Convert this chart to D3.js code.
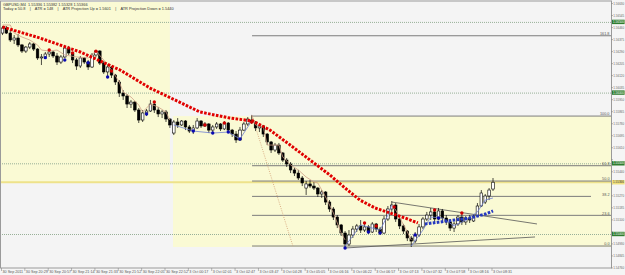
<!DOCTYPE html>
<html>
<head>
<meta charset="utf-8">
<script src="https://cdn.jsdelivr.net/npm/d3@7"></script>
<style>
  body { margin: 0; background: #f4f4f4; }
  svg { display: block; font-family: "Liberation Sans", Arial, sans-serif; }
  .hdr { white-space: pre; }
</style>
</head>
<body>
<svg id="chart" width="625" height="275"></svg>
<script>
// GBPUSD M4, 30 Sep - 3 Oct 2011

var openP = [1.56421,1.56457,1.56421,1.56372,1.56386,1.56337,1.56294,1.56322,1.56344,1.56308,
  1.56245,1.56252,1.56273,1.56287,1.56259,1.56216,1.56252,1.56315,1.56280,1.56231,
  1.56188,1.56245,1.56216,1.56181,1.56266,1.56294,1.56209,1.56146,1.56181,1.56124,
  1.56075,1.55997,1.55976,1.55919,1.55933,1.55877,1.55806,1.55856,1.55870,1.55919,
  1.55877,1.55849,1.55863,1.55813,1.55714,1.55792,1.55771,1.55799,1.55757,1.55728,
  1.55750,1.55799,1.55764,1.55778,1.55735,1.55757,1.55778,1.55743,1.55785,1.55735,
  1.55707,1.55665,1.55735,1.55778,1.55806,1.55792,1.55750,1.55764,1.55707,1.55651,
  1.55594,1.55629,1.55573,1.55523,1.55495,1.55453,1.55431,1.55396,1.55325,1.55354,
  1.55339,1.55325,1.55283,1.55297,1.55226,1.55177,1.55120,1.55064,1.55007,1.54929,
  1.54993,1.55035,1.55057,1.55028,1.55050,1.55014,1.55071,1.55035,1.55007,1.55106,
  1.55177,1.55205,1.55106,1.55057,1.55021,1.54972,1.54950,1.54993,1.55050,1.55106,
  1.55134,1.55156,1.55106,1.55163,1.55113,1.55085,1.55042,1.55071,1.55120,1.55085,
  1.55113,1.55092,1.55127,1.55198,1.55226,1.55269,1.55318];

var highP = [1.56471,1.56471,1.56443,1.56407,1.56414,1.56344,1.56330,1.56358,1.56351,1.56315,
  1.56273,1.56287,1.56301,1.56294,1.56280,1.56266,1.56337,1.56330,1.56287,1.56245,
  1.56259,1.56252,1.56231,1.56280,1.56301,1.56301,1.56223,1.56202,1.56188,1.56132,
  1.56089,1.56018,1.55990,1.55948,1.55941,1.55891,1.55877,1.55884,1.55948,1.55933,
  1.55898,1.55877,1.55877,1.55820,1.55806,1.55820,1.55806,1.55806,1.55771,1.55771,
  1.55820,1.55806,1.55792,1.55785,1.55771,1.55792,1.55785,1.55799,1.55792,1.55743,
  1.55728,1.55757,1.55792,1.55827,1.55842,1.55799,1.55778,1.55771,1.55714,1.55658,
  1.55644,1.55644,1.55580,1.55537,1.55509,1.55467,1.55453,1.55410,1.55375,1.55382,
  1.55368,1.55332,1.55311,1.55304,1.55240,1.55191,1.55134,1.55071,1.55021,1.55028,
  1.55057,1.55071,1.55099,1.55071,1.55064,1.55085,1.55078,1.55050,1.55127,1.55198,
  1.55233,1.55219,1.55113,1.55071,1.55028,1.54986,1.55014,1.55071,1.55120,1.55156,
  1.55184,1.55170,1.55184,1.55177,1.55134,1.55099,1.55085,1.55134,1.55149,1.55127,
  1.55134,1.55141,1.55219,1.55311,1.55283,1.55325,1.55396];

var lowP = [1.56407,1.56414,1.56358,1.56344,1.56322,1.56280,1.56280,1.56308,1.56294,1.56231,
  1.56195,1.56245,1.56252,1.56245,1.56195,1.56202,1.56245,1.56266,1.56209,1.56160,
  1.56174,1.56202,1.56160,1.56174,1.56252,1.56195,1.56132,1.56110,1.56103,1.56054,
  1.55969,1.55948,1.55891,1.55891,1.55863,1.55785,1.55792,1.55834,1.55863,1.55856,
  1.55827,1.55820,1.55792,1.55750,1.55700,1.55750,1.55764,1.55735,1.55714,1.55707,
  1.55743,1.55750,1.55757,1.55714,1.55721,1.55743,1.55728,1.55735,1.55714,1.55686,
  1.55644,1.55658,1.55728,1.55764,1.55778,1.55728,1.55721,1.55686,1.55629,1.55573,
  1.55580,1.55559,1.55509,1.55474,1.55431,1.55410,1.55382,1.55339,1.55276,1.55325,
  1.55311,1.55262,1.55255,1.55205,1.55156,1.55099,1.55042,1.54986,1.54901,1.54915,
  1.54972,1.55014,1.55007,1.55014,1.55000,1.55007,1.55014,1.54993,1.55000,1.55092,
  1.55156,1.55085,1.55035,1.55000,1.54950,1.54908,1.54936,1.54979,1.55035,1.55092,
  1.55099,1.55085,1.55099,1.55085,1.55064,1.55021,1.55014,1.55057,1.55064,1.55064,
  1.55078,1.55085,1.55120,1.55191,1.55212,1.55240,1.55304];

var closeP = [1.56457,1.56421,1.56372,1.56386,1.56337,1.56294,1.56322,1.56344,1.56308,1.56245,
  1.56252,1.56273,1.56287,1.56259,1.56216,1.56252,1.56315,1.56280,1.56231,1.56188,
  1.56245,1.56216,1.56181,1.56266,1.56294,1.56209,1.56146,1.56181,1.56124,1.56075,
  1.55997,1.55976,1.55919,1.55933,1.55877,1.55806,1.55856,1.55870,1.55919,1.55877,
  1.55849,1.55863,1.55813,1.55771,1.55792,1.55771,1.55799,1.55757,1.55728,1.55750,
  1.55799,1.55764,1.55778,1.55735,1.55757,1.55778,1.55743,1.55785,1.55735,1.55707,
  1.55665,1.55735,1.55778,1.55813,1.55792,1.55750,1.55764,1.55707,1.55651,1.55594,
  1.55629,1.55573,1.55523,1.55495,1.55453,1.55431,1.55396,1.55361,1.55354,1.55339,
  1.55325,1.55283,1.55297,1.55226,1.55177,1.55120,1.55064,1.55007,1.54929,1.54993,
  1.55035,1.55057,1.55028,1.55050,1.55014,1.55071,1.55035,1.55007,1.55106,1.55177,
  1.55205,1.55106,1.55057,1.55021,1.54972,1.54950,1.54993,1.55050,1.55106,1.55134,
  1.55156,1.55106,1.55163,1.55113,1.55085,1.55042,1.55071,1.55120,1.55085,1.55113,
  1.55099,1.55127,1.55198,1.55290,1.55269,1.55311,1.55366];

// time axis labels, one every 6 bars
var timeLabels = ["30 Sep 2011","30 Sep 20:29","30 Sep 20:57","30 Sep 21:14","30 Sep 21:33",
  "30 Sep 21:52","30 Sep 22:05","30 Sep 22:52","3 Oct 00:17","3 Oct 02:01","3 Oct 02:47",
  "3 Oct 03:47","3 Oct 04:28","3 Oct 05:05","3 Oct 06:16","3 Oct 06:22","3 Oct 06:57",
  "3 Oct 07:13","3 Oct 07:32","3 Oct 07:58","3 Oct 08:16","3 Oct 08:31"];
var timeLabelBars = [0,6,12,18,24,30,36,42,48,54,60,66,72,78,84,90,96,102,108,114,120,126];

// price axis
var priceTicks = [1.54760,1.54845,1.54930,1.55015,1.55100,1.55185,1.55270,1.55355,1.55440,
  1.55525,1.55610,1.55695,1.55780,1.55865,1.55950,1.56035,1.56120,1.56205,1.56290,1.56375,
  1.56460,1.56545,1.56630];
var roundLevels = [1.5500, 1.5550, 1.5600, 1.5650];
var bidPrice = 1.55366;

// fibonacci retracement (anchors: bar, price)
var fibNames = ["0.0","23.6","38.2","50.0","61.8","100.0","161.8"];
var fibRatios = [0, 0.236, 0.382, 0.5, 0.618, 1, 1.618];
var fibBars = [64.1, 74.6];
var fibPrices = [1.55834, 1.54915];

// rectangles (bar from, bar to) and (price low, price high)
var rectBars = [[-2, 43.0], [43.8, 160]];
var rectPrices = [[1.55361, 1.5680], [1.54908, 1.55834]];

// ATR trend line (squares)
var redBars = [0, 9.6, 20, 30.2, 37.9, 44.3, 50.7, 58.4, 64.3, 68.7, 73.9, 79, 84.1, 88, 91.8, 95.7, 99.5, 103.4, 106.7];
var redPrices = [1.56464, 1.56386, 1.56287, 1.56160, 1.56032, 1.55948, 1.55863, 1.55820, 1.55799, 1.55735,
  1.55629, 1.55523, 1.55417, 1.55325, 1.55240, 1.55184, 1.55149, 1.55113, 1.55078];
var blueBars = [108.5, 112.4, 116.2, 120.1, 124, 126];
var bluePrices = [1.55071, 1.55085, 1.55099, 1.55113, 1.55141, 1.55163];

// thin trailing line (null = break)
var tanBars = [0, 2, 3, 5, 7, 9, 10, 12, 14, 16, 19, 22, 24, 26, 28, 30, 31, 33, 35, 36, 38, 40, 42, 43, null,
  64, 65, 67, 68, 71, 72, 74, 76, 78, 80, 81, 83, 85, 87, 88, null, 100, 101, 104, 105];
var tanPrices = [1.56478, 1.56478, 1.56421, 1.56393, 1.56372, 1.56337, 1.56301, 1.56294, 1.56301, 1.56266,
  1.56252, 1.56245, 1.56294, 1.56231, 1.56160, 1.56075, 1.56004, 1.55969, 1.55912, 1.55863, 1.55919, 1.55898,
  1.55863, 1.55806, null, 1.55842, 1.55771, 1.55757, 1.55629, 1.55629, 1.55545, 1.55488, 1.55453, 1.55403,
  1.55368, 1.55361, 1.55262, 1.55149, 1.55007, 1.54958, null, 1.55205, 1.55170, 1.55014, 1.54958];
var thinBlueBars = [44, 49, 54, 58, 61, 64, null, 88, 90, 92, 95, 97, 99, 100, null, 105, 108, 110, 113, 116, 119, 122, 124, 126];
var thinBluePrices = [1.55771, 1.55728, 1.55714, 1.55721, 1.55672, 1.55799, null, 1.54915, 1.54986, 1.55064,
  1.55042, 1.55028, 1.55134, 1.55205, null, 1.54915, 1.55028, 1.55120, 1.55113, 1.55057, 1.55099, 1.55156, 1.55240, 1.55255];

// fractal dots
var redDotBars = [12, 18, 24, 28, 39, 52, 57, 64, 93, 96, 100.6, 111, 118];
var redDotPrices = [1.56301, 1.56280, 1.56292, 1.56153, 1.55933, 1.55771, 1.55785, 1.55792, 1.55078, 1.55057, 1.55191, 1.55170, 1.55149];
var blueDotBars = [11, 16, 22, 27, 37, 49, 54, 58, 61, 88, 94, 97, 106, 112];
var blueDotPrices = [1.56247, 1.56231, 1.56211, 1.56110, 1.55849, 1.55728, 1.55714, 1.55721, 1.55672, 1.54901, 1.55014, 1.55007, 1.54993, 1.55113];

// trend lines [bar1, price1, bar2, price2]
var trendLines = [[100, 1.55226, 137.3, 1.55071], [88, 1.54901, 136.8, 1.54979]];

var headerLine1 = "GBPUSD,M4  1.55336 1.55382 1.55328 1.55366";
var headerLine2 = "Today = 50.8    |    ATR = 148    |    ATR Projection Up = 1.5601    |    ATR Projection Down = 1.5440";

var svg = d3.select("#chart");
var plotRight = 611, plotTop = 2, plotBottom = 268;

var x = d3.scaleLinear().domain([0, 126]).range([2.5, 493]);
var y = d3.scaleLinear().domain([1.5500, 1.5650]).range([234, 21.9]);

svg.append("rect").attr("width", 625).attr("height", 275).style("fill", "#f5f5f5");

svg.append("clipPath").attr("id", "plotclip")
  .append("rect").attr("x", 0).attr("y", plotTop).attr("width", plotRight).attr("height", plotBottom - plotTop);

var plot = svg.append("g").attr("clip-path", "url(#plotclip)");

plot.append("rect").attr("x", 0).attr("y", plotTop).attr("width", plotRight).attr("height", plotBottom - plotTop)
  .style("fill", "#f4f4f4");

// yellow zones
plot.selectAll(".zone").data(rectBars).enter().append("rect")
  .attr("x", (d, i) => Math.max(0, x(d[0])))
  .attr("width", (d, i) => x(d[1]) - Math.max(0, x(d[0])))
  .attr("y", (d, i) => y(rectPrices[i][1]))
  .attr("height", (d, i) => y(rectPrices[i][0]) - y(rectPrices[i][1]))
  .style("fill", "#fafad4");

// round number levels
plot.selectAll(".lvl").data(roundLevels).enter().append("line")
  .attr("x1", 0).attr("x2", plotRight)
  .attr("y1", d => y(d) + 0.5).attr("y2", d => y(d) + 0.5)
  .style("stroke", "#98b098").style("stroke-width", 1).style("stroke-dasharray", "1,1");

// bid line
plot.append("line").attr("x1", 0).attr("x2", plotRight)
  .attr("y1", y(bidPrice)).attr("y2", y(bidPrice))
  .style("stroke", "#eee28a").style("stroke-width", 2.2);

// fibonacci
var fibRange = fibPrices[0] - fibPrices[1];
plot.selectAll(".fib").data(fibRatios).enter().append("line")
  .attr("x1", x(fibBars[0])).attr("x2", (d, i) => fibNames[i] == "38.2" ? 591 : plotRight)
  .attr("y1", d => y(fibPrices[1] + d * fibRange)).attr("y2", d => y(fibPrices[1] + d * fibRange))
  .style("stroke", "#7c7c7c").style("stroke-width", 1);

plot.selectAll(".fibtxt").data(fibRatios).enter().append("text")
  .attr("x", 609.5).attr("y", d => y(fibPrices[1] + d * fibRange) - 0.8)
  .attr("text-anchor", "end")
  .text((d, i) => fibNames[i])
  .style("font-size", "3.8px").style("fill", "#555");

plot.append("line")
  .attr("x1", x(fibBars[0])).attr("y1", y(fibPrices[0]))
  .attr("x2", x(fibBars[1])).attr("y2", y(fibPrices[1]))
  .style("stroke", "#d09a70").style("stroke-width", 0.8).style("stroke-dasharray", "1,1.3");

// trend lines
plot.selectAll(".tl").data(trendLines).enter().append("line")
  .attr("x1", d => x(d[0])).attr("y1", d => y(d[1]))
  .attr("x2", d => x(d[2])).attr("y2", d => y(d[3]))
  .style("stroke", "#555").style("stroke-width", 0.8);

// candles
var bars = d3.range(openP.length).map(i => ({i: i, o: openP[i], h: highP[i], l: lowP[i], c: closeP[i]}));

plot.selectAll(".wick").data(bars).enter().append("line")
  .attr("x1", d => x(d.i)).attr("x2", d => x(d.i))
  .attr("y1", d => y(d.h)).attr("y2", d => y(d.l))
  .style("stroke", "#000").style("stroke-width", 0.7);

plot.selectAll(".body").data(bars).enter().append("rect")
  .attr("x", d => x(d.i) - 1.3).attr("width", 2.6)
  .attr("y", d => y(Math.max(d.o, d.c)))
  .attr("height", d => Math.max(0.6, Math.abs(y(d.o) - y(d.c))))
  .style("fill", d => d.c >= d.o ? "#fff" : "#000")
  .style("stroke", "#000").style("stroke-width", 0.6);

// thin trailing lines
function pairs(bs, ps) {
  return bs.map((b, i) => [b, ps[i]]);
}
var thin = d3.line().defined(d => d[0] != null).x(d => x(d[0])).y(d => y(d[1]));

plot.append("path").datum(pairs(tanBars, tanPrices)).attr("d", thin)
  .style("fill", "none").style("stroke", "#cf9f86").style("stroke-width", 0.8);
plot.append("path").datum(pairs(thinBlueBars, thinBluePrices)).attr("d", thin)
  .style("fill", "none").style("stroke", "#6f7fd0").style("stroke-width", 0.8);

// ATR trend squares
var sq = d3.line().x(d => x(d[0])).y(d => y(d[1]));
plot.append("path").datum(pairs(redBars, redPrices)).attr("d", sq)
  .style("fill", "none").style("stroke", "#e00000").style("stroke-width", 3)
  .style("stroke-dasharray", "2.6,1.4");
plot.append("path").datum(pairs(blueBars, bluePrices)).attr("d", sq)
  .style("fill", "none").style("stroke", "#2438c0").style("stroke-width", 3)
  .style("stroke-dasharray", "2.6,1.4");

// fractal dots
plot.selectAll(".rdot").data(pairs(redDotBars, redDotPrices)).enter().append("circle")
  .attr("cx", d => x(d[0])).attr("cy", d => y(d[1])).attr("r", 1.7)
  .style("fill", "#d00000");
plot.selectAll(".bdot").data(pairs(blueDotBars, blueDotPrices)).enter().append("circle")
  .attr("cx", d => x(d[0])).attr("cy", d => y(d[1])).attr("r", 1.7)
  .style("fill", "#0a0ab0");

// frame
svg.append("rect").attr("x", 0.5).attr("y", 1).attr("width", plotRight).attr("height", plotBottom - 1)
  .style("fill", "none").style("stroke", "#9a9a9a").style("stroke-width", 1);

// header
svg.append("text").attr("class", "hdr").attr("x", 3).attr("y", 5.6).text(headerLine1)
  .style("font-size", "3.9px").style("fill", "#333");
svg.append("text").attr("class", "hdr").attr("x", 3).attr("y", 10).text(headerLine2)
  .style("font-size", "3.9px").style("fill", "#333");

// price axis; tick labels hidden where a highlighted label sits (as the terminal does)
var marked = roundLevels.concat([bidPrice]);
var shownTicks = priceTicks.filter(p => marked.every(m => Math.abs(y(p) - y(m)) > 4.6));

svg.selectAll(".ptk").data(priceTicks).enter().append("line")
  .attr("x1", plotRight).attr("x2", plotRight + 2)
  .attr("y1", d => y(d)).attr("y2", d => y(d))
  .style("stroke", "#888").style("stroke-width", 0.6);
svg.selectAll(".plab").data(shownTicks).enter().append("text")
  .attr("x", 613.3).attr("y", d => y(d) + 1.1)
  .text(d => d.toFixed(5))
  .style("font-size", "3px").style("fill", "#666");

var green = svg.selectAll(".glab").data(roundLevels).enter().append("g");
green.append("rect").attr("x", 612).attr("y", d => y(d) - 2.2).attr("width", 12.6).attr("height", 4.4)
  .style("fill", "#2f7d2f");
green.append("text").attr("x", 613.1).attr("y", d => y(d) + 1.1)
  .text(d => d.toFixed(5))
  .style("font-size", "3px").style("fill", "#fff");

svg.append("rect").attr("x", 612).attr("y", y(bidPrice) - 2.2).attr("width", 12.6).attr("height", 4.4)
  .style("fill", "#efe07c");
svg.append("text").attr("x", 613.1).attr("y", y(bidPrice) + 1.1)
  .text(bidPrice.toFixed(5))
  .style("font-size", "3px").style("fill", "#333");

// time axis
svg.selectAll(".ttk").data(timeLabelBars).enter().append("line")
  .attr("x1", d => x(d) - 1).attr("x2", d => x(d) - 1)
  .attr("y1", plotBottom).attr("y2", plotBottom + 3)
  .style("stroke", "#888").style("stroke-width", 0.6);
svg.selectAll(".tlab").data(timeLabelBars).enter().append("text")
  .attr("x", d => x(d)).attr("y", 273)
  .text((d, i) => timeLabels[i])
  .style("font-size", "3.7px").style("fill", "#555");
</script>
</body>
</html>
